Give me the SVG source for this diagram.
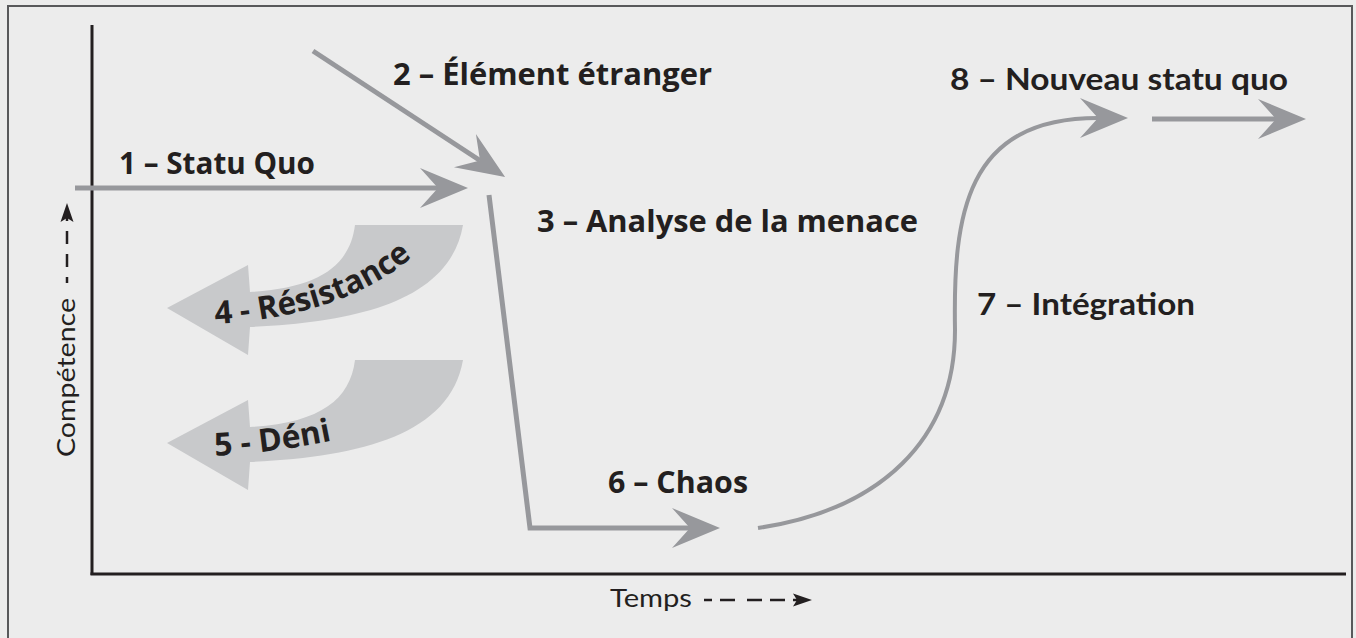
<svg xmlns="http://www.w3.org/2000/svg" width="1356" height="638" viewBox="0 0 1356 638">
<style>
.lbl{font-family:"Open Sans","Liberation Sans",sans-serif;font-weight:700;font-size:30px;fill:#231f20}
.big{font-size:32px}
.lbl2{font-family:Lato,"Liberation Sans",sans-serif;font-weight:700;font-size:30px;fill:#231f20}
.ax{font-family:Lato,"Liberation Sans",sans-serif;font-weight:400;font-size:25px;fill:#231f20}
.conn{fill:none;stroke:#97989c;stroke-width:5;stroke-linejoin:miter}
.thin{stroke-width:4}
.block{fill:#c8c9cb}
.axis{stroke:#231f20;stroke-width:3;fill:none}
.dash{stroke:#231f20;stroke-width:2.5;fill:none}
</style>
<defs>
<marker id="ah" markerUnits="userSpaceOnUse" markerWidth="50" markerHeight="42" viewBox="0 -21 50 42" refX="18" refY="0" orient="auto" overflow="visible">
<path d="M0,-20 L48,0 L0,20 L18,0 Z" fill="#97989c"/>
</marker>
<path id="p4" d="M215,324 Q350,316 420,250"/>
<path id="p5" d="M215,456 Q280,452 340,439"/>
</defs>
<rect x="0" y="0" width="1356" height="638" fill="#ececec"/>
<rect x="8" y="6" width="1344" height="640" fill="none" stroke="#58595b" stroke-width="2"/>

<g id="axes">
<line class="axis" x1="92" y1="25" x2="92" y2="575"/>
<line class="axis" x1="90.5" y1="574" x2="1346" y2="574"/>
<g id="axis-y">
<text class="ax" transform="translate(75,457) rotate(-90)" textLength="159" lengthAdjust="spacingAndGlyphs">Compétence</text>
<path class="dash" d="M67,283 L67,218" stroke-dasharray="6 10 13 10 13 10"/>
<path d="M67,203 L73.5,222 L67,218 L60.5,222 Z" fill="#231f20"/>
</g>
<g id="axis-x">
<text class="ax" x="610" y="607" textLength="82" lengthAdjust="spacingAndGlyphs">Temps</text>
<path class="dash" d="M704,600 L797,600" stroke-dasharray="8 8 15 12 15 8 15 8 20"/>
<path d="M812,600 L793,593.5 L797,600 L793,606.5 Z" fill="#231f20"/>
</g>
</g>

<g id="connectors">
<path class="conn" d="M75,188 L438,188" marker-end="url(#ah)"/>
<path class="conn" d="M313,51 L480,160.5" marker-end="url(#ah)"/>
<path class="conn" d="M489,195 L530,528 L690,528" marker-end="url(#ah)"/>
<path class="conn thin" d="M758,528 C880,510 955,440 955,330 C953,215 965,118 1098,118" marker-end="url(#ah)"/>
<path class="conn" d="M1152,119 L1276,119" marker-end="url(#ah)"/>
</g>

<g id="n1"><text class="lbl" x="119" y="174" textLength="196" lengthAdjust="spacingAndGlyphs">1 – Statu Quo</text></g>
<g id="n2"><text class="lbl" x="393" y="85" textLength="319" lengthAdjust="spacingAndGlyphs">2 – Élément étranger</text></g>
<g id="n3"><text class="lbl" x="537" y="232" textLength="381" lengthAdjust="spacingAndGlyphs">3 – Analyse de la menace</text></g>
<g id="n4">
<path class="block" d="M355,225 L463,225 C450,300 360,322 250,327 L248,355 L167,308 L248,265 L250,292 C320,288 350,265 355,225 Z"/>
<text class="lbl big"><textPath href="#p4" textLength="212" lengthAdjust="spacingAndGlyphs">4 - Résistance</textPath></text>
</g>
<g id="n5">
<path class="block" transform="translate(0,135)" d="M355,225 L463,225 C450,300 360,322 250,327 L248,355 L167,308 L248,265 L250,292 C320,288 350,265 355,225 Z"/>
<text class="lbl big"><textPath href="#p5" textLength="118" lengthAdjust="spacingAndGlyphs">5 - Déni</textPath></text>
</g>
<g id="n6"><text class="lbl" x="608" y="493" textLength="140" lengthAdjust="spacingAndGlyphs">6 – Chaos</text></g>
<g id="n7"><text class="lbl2" x="977" y="315" textLength="218" lengthAdjust="spacingAndGlyphs">7 – Intégration</text></g>
<g id="n8"><text class="lbl2" x="950" y="90" textLength="338" lengthAdjust="spacingAndGlyphs">8 – Nouveau statu quo</text></g>
</svg>
